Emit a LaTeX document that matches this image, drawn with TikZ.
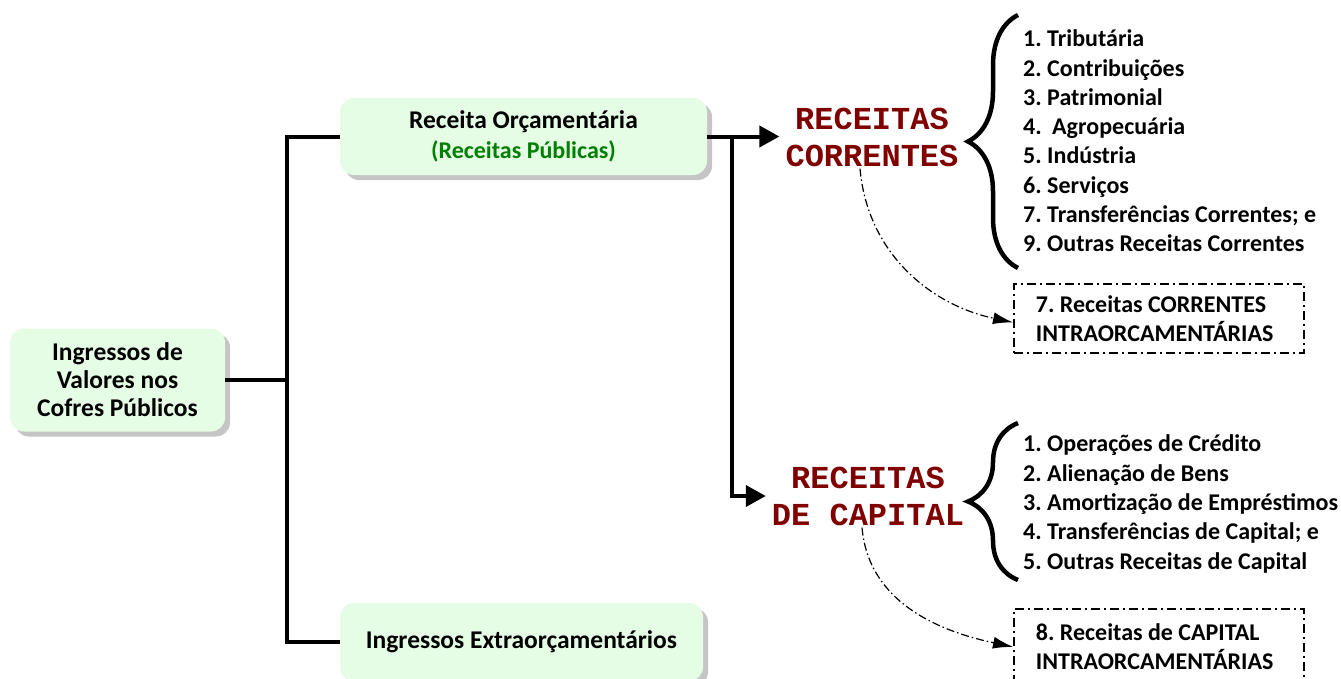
\documentclass[tikz,border=0pt]{standalone}
\usepackage{fontspec}
\setmainfont{Carlito}
\newfontfamily\courierfont{Liberation Mono}
\usetikzlibrary{arrows.meta,shadows,decorations.pathreplacing,positioning}
\definecolor{boxgreen}{RGB}{229,252,229}
\definecolor{labelgreen}{RGB}{0,128,0}
\definecolor{labelred}{RGB}{128,0,0}
\frenchspacing
\tikzset{
  greenbox/.style={fill=boxgreen, rounded corners=14pt, inner sep=0pt, align=center,
    drop shadow={shadow xshift=5pt, shadow yshift=-5pt, fill=black!45},
    font=\fontsize{25.5}{28}\selectfont\bfseries},
  redlabel/.style={text=labelred, align=center, inner xsep=6pt, inner ysep=2pt,
    font=\courierfont\bfseries\fontsize{32}{37}\selectfont},
  itemlist/.style={align=left, inner sep=0pt, font=\fontsize{24}{29.3}\selectfont\bfseries},
  intrabox/.style={draw, line width=1.8pt, dash pattern=on 9pt off 4pt on 2pt off 4pt,
    minimum width=290pt, text width=246pt, inner xsep=22pt, align=flush left,
    font=\fontsize{24}{29}\selectfont\bfseries},
  link/.style={line width=4pt, line join=miter},
  linkarrow/.style={link, -{Triangle[length=20pt,width=21pt]}},
  dasharrow/.style={line width=1.2pt, dash pattern=on 8pt off 3pt on 1.5pt off 3pt,
    -{Latex[length=20pt,width=12pt]}},
  bigbrace/.style={line width=4.5pt, decorate, decoration={brace, amplitude=50pt}}
}
\begin{document}
\begin{tikzpicture}[x=1pt, y=-1pt]
\useasboundingbox (0,0) rectangle (1341,678);
\node[greenbox, minimum width=215pt, minimum height=103pt] (ingr) at (117.5,380) {Ingressos de\\Valores nos\\Cofres Públicos};
\node[greenbox, minimum width=367pt, minimum height=77pt] (orc) at (523.5,136.5) {Receita Orçamentária\\[2pt]{\color{labelgreen}\fontsize{24}{26}\selectfont(Receitas Públicas)}};
\node[greenbox, minimum width=363pt, minimum height=78pt] (extra) at (521.5,642) {Ingressos Extraorçamentários};
\coordinate (jA) at ([xshift=62pt]ingr.east);
\draw[link] (ingr.east) -- (jA);
\draw[link] (orc.west) -| (jA) |- (extra.west);
\node[redlabel] (corr) at (872,137) {RECEITAS\\CORRENTES};
\node[redlabel] (cap) at (868,496) {RECEITAS\\DE CAPITAL};
\coordinate (jB) at ([xshift=25pt]orc.east);
\draw[linkarrow] (orc.east) -- (corr.west |- orc.east);
\draw[link] (orc.east) -- (jB);
\draw[linkarrow] (jB) |- (cap.west);
\draw[bigbrace] (1018,268) -- (1018,15);
\draw[bigbrace] (1018,580) -- (1018,423);
\node[itemlist, anchor=west] (listC) at (1023,141) {1. Tributária\\2. Contribuições\\3. Patrimonial\\4.\hspace{5pt} Agropecuária\\5. Indústria\\6. Serviços\\7. Transferências Correntes; e\\9. Outras Receitas Correntes};
\node[itemlist, anchor=west] (listK) at (1023,504) {1. Operações de Crédito\\2. Alienação de Bens\\3. Amortização de Empréstimos\\4. Transferências de Capital; e\\5. Outras Receitas de Capital};
\node[intrabox, minimum height=69pt, anchor=north west] (intraC) at (1013,283) {7. Receitas CORRENTES\\INTRAORCAMENTÁRIAS};
\node[intrabox, minimum height=76pt, anchor=north west] (intraK) at (1013,608) {8. Receitas de CAPITAL\\INTRAORCAMENTÁRIAS};
\draw[dasharrow] ([xshift=-12pt]corr.south) to[out=-85, in=168] ([yshift=-4pt]intraC.west);
\draw[dasharrow] ([xshift=-6pt]cap.south) to[out=-85, in=168] (intraK.west);
\end{tikzpicture}
\end{document}
